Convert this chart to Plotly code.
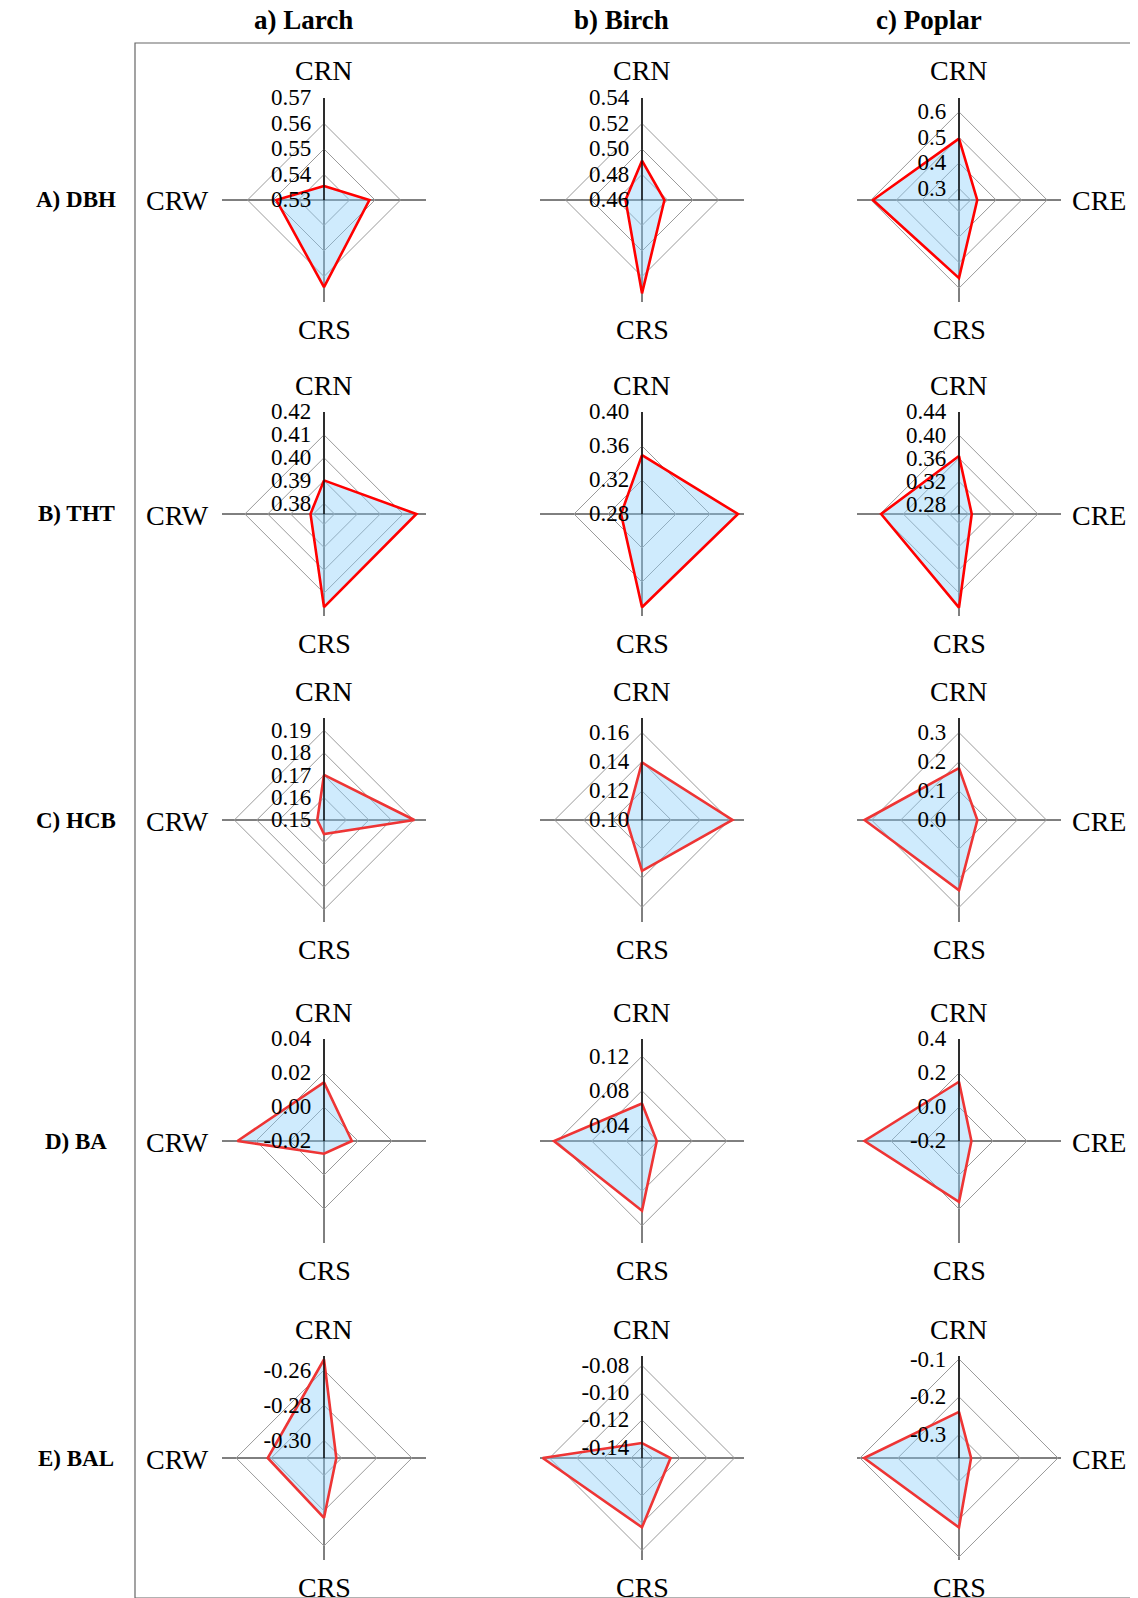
import plotly.graph_objects as go

# ---------------- data ----------------
categories = ["CRN", "CRE", "CRS", "CRW"]
species = ["a) Larch", "b) Birch", "c) Poplar"]
variables = ["A) DBH", "B) THT", "C) HCB", "D) BA", "E) BAL"]

# values in order CRN, CRE, CRS, CRW
dbh_larch = [0.5355, 0.5478, 0.5642, 0.5487]
dbh_birch = [0.4908, 0.4776, 0.5332, 0.4729]
dbh_poplar = [0.495, 0.326, 0.561, 0.592]

tht_larch = [0.3901, 0.4158, 0.4161, 0.3813]
tht_birch = [0.3493, 0.3929, 0.3897, 0.3046]
tht_poplar = [0.3641, 0.2858, 0.4255, 0.3983]

hcb_larch = [0.1701, 0.1903, 0.1563, 0.1530]
hcb_birch = [0.1395, 0.1621, 0.1349, 0.1106]
hcb_poplar = [0.178, 0.063, 0.241, 0.324]

ba_larch = [0.0145, -0.0036, -0.0125, 0.0309]
ba_birch = [0.0652, 0.0388, 0.1025, 0.1238]
ba_poplar = [0.1485, -0.127, 0.158, 0.356]

bal_larch = [-0.254, -0.303, -0.276, -0.278]
bal_birch = [-0.137, -0.127, -0.097, -0.075]
bal_poplar = [-0.240, -0.330, -0.178, -0.111]

# radial tick values / labels for each panel
ticks_dbh_larch = [0.53, 0.54, 0.55, 0.56, 0.57]
ticks_dbh_birch = [0.46, 0.48, 0.50, 0.52, 0.54]
ticks_dbh_poplar = [0.3, 0.4, 0.5, 0.6]
ticks_tht_larch = [0.38, 0.39, 0.40, 0.41, 0.42]
ticks_tht_birch = [0.28, 0.32, 0.36, 0.40]
ticks_tht_poplar = [0.28, 0.32, 0.36, 0.40, 0.44]
ticks_hcb_larch = [0.15, 0.16, 0.17, 0.18, 0.19]
ticks_hcb_birch = [0.10, 0.12, 0.14, 0.16]
ticks_hcb_poplar = [0.0, 0.1, 0.2, 0.3]
ticks_ba_larch = [-0.02, 0.00, 0.02, 0.04]
ticks_ba_birch = [0.04, 0.08, 0.12]
ticks_ba_poplar = [-0.2, 0.0, 0.2, 0.4]
ticks_bal_larch = [-0.30, -0.28, -0.26]
ticks_bal_birch = [-0.14, -0.12, -0.10, -0.08]
ticks_bal_poplar = [-0.3, -0.2, -0.1]

labels_dbh_larch = ["0.53", "0.54", "0.55", "0.56", "0.57"]
labels_dbh_birch = ["0.46", "0.48", "0.50", "0.52", "0.54"]
labels_dbh_poplar = ["0.3", "0.4", "0.5", "0.6"]
labels_tht_larch = ["0.38", "0.39", "0.40", "0.41", "0.42"]
labels_tht_birch = ["0.28", "0.32", "0.36", "0.40"]
labels_tht_poplar = ["0.28", "0.32", "0.36", "0.40", "0.44"]
labels_hcb_larch = ["0.15", "0.16", "0.17", "0.18", "0.19"]
labels_hcb_birch = ["0.10", "0.12", "0.14", "0.16"]
labels_hcb_poplar = ["0.0", "0.1", "0.2", "0.3"]
labels_ba_larch = ["-0.02", "0.00", "0.02", "0.04"]
labels_ba_birch = ["0.04", "0.08", "0.12"]
labels_ba_poplar = ["-0.2", "0.0", "0.2", "0.4"]
labels_bal_larch = ["-0.30", "-0.28", "-0.26"]
labels_bal_birch = ["-0.14", "-0.12", "-0.10", "-0.08"]
labels_bal_poplar = ["-0.3", "-0.2", "-0.1"]

# angular labels shown in each column (CRN, CRE, CRS, CRW)
angular_labels = [
    ["CRN", "", "CRS", "CRW"],
    ["CRN", "", "CRS", ""],
    ["CRN", "CRE", "CRS", ""],
]

# ---------------- axis settings ----------------
ranges = [
    [[0.53, 0.57], [0.46, 0.54], [0.2545, 0.6545]],
    [[0.3754, 0.42], [0.28, 0.40], [0.2638, 0.44]],
    [[0.15, 0.1955], [0.10, 0.170], [0.0, 0.35]],
    [[-0.02, 0.04], [0.0217, 0.140], [-0.2, 0.4]],
    [[-0.31, -0.252], [-0.148, -0.073], [-0.362, -0.092]],
]

panel_values = [
    [dbh_larch, dbh_birch, dbh_poplar],
    [tht_larch, tht_birch, tht_poplar],
    [hcb_larch, hcb_birch, hcb_poplar],
    [ba_larch, ba_birch, ba_poplar],
    [bal_larch, bal_birch, bal_poplar],
]
panel_ticks = [
    [ticks_dbh_larch, ticks_dbh_birch, ticks_dbh_poplar],
    [ticks_tht_larch, ticks_tht_birch, ticks_tht_poplar],
    [ticks_hcb_larch, ticks_hcb_birch, ticks_hcb_poplar],
    [ticks_ba_larch, ticks_ba_birch, ticks_ba_poplar],
    [ticks_bal_larch, ticks_bal_birch, ticks_bal_poplar],
]
panel_labels = [
    [labels_dbh_larch, labels_dbh_birch, labels_dbh_poplar],
    [labels_tht_larch, labels_tht_birch, labels_tht_poplar],
    [labels_hcb_larch, labels_hcb_birch, labels_hcb_poplar],
    [labels_ba_larch, labels_ba_birch, labels_ba_poplar],
    [labels_bal_larch, labels_bal_birch, labels_bal_poplar],
]

# page is 1138x1598; the html body has an 8px default margin,
# so the figure is made 8px smaller and page coords are shifted.
PAGE_W, PAGE_H = 1138, 1598
OFF = 8
W, H = PAGE_W - OFF, PAGE_H - OFF


def px(x):
    return (x - OFF) / W


def py(y):
    return 1 - (y - OFF) / H


col_cx = [324, 642, 959]
row_cy = [200, 514, 820, 1141, 1458]
R = 102
FONT = "Liberation Serif"
line_colors = ["#FF0000", "#FF0000", "#EE3535", "#EE3535", "#EE3535"]

fig = go.Figure()
layout_polars = {}
annotations = []
k = 0
for i in range(5):
    for j in range(3):
        k += 1
        name = "polar" if k == 1 else f"polar{k}"
        vals = panel_values[i][j]
        fig.add_trace(go.Scatterpolar(
            r=vals + vals[:1],
            theta=categories + categories[:1],
            mode="lines",
            fill="toself",
            fillcolor="rgba(135,206,250,0.40)",
            line=dict(color=line_colors[i], width=2.6),
            subplot=name,
            showlegend=False,
            hoverinfo="skip",
        ))
        cx, cy = col_cx[j], row_cy[i]
        layout_polars[name] = dict(
            domain=dict(x=[px(cx - R), px(cx + R)],
                        y=[py(cy + R), py(cy - R)]),
            gridshape="linear",
            bgcolor="rgba(0,0,0,0)",
            radialaxis=dict(
                range=ranges[i][j],
                angle=90,
                side="counterclockwise",
                tickmode="array",
                tickvals=panel_ticks[i][j],
                ticktext=panel_labels[i][j],
                showline=True,
                linecolor="black",
                linewidth=1.3,
                ticks="outside",
                ticklen=4,
                tickcolor="rgba(0,0,0,0)",
                gridcolor="#9a9a9a",
                gridwidth=1,
                tickfont=dict(family=FONT, size=23, color="black"),
                tickangle=90,
            ),
            angularaxis=dict(
                type="category",
                categoryarray=categories,
                rotation=90,
                direction="clockwise",
                showticklabels=False,
                showline=False,
                gridcolor="black",
                gridwidth=1.3,
                ticks="",
            ),
        )
        # angular category labels
        lab = angular_labels[j]
        afont = dict(family=FONT, size=28, color="black")
        pos = [
            (cx, cy - 129, "center", "middle"),
            (cx + 111, cy + 1, "left", "middle"),
            (cx, cy + 129, "center", "middle"),
            (cx - 113, cy + 1, "right", "middle"),
        ]
        for t, (ax_, ay_, xa, ya) in zip(lab, pos):
            if t:
                annotations.append(dict(
                    text=t, x=px(ax_), y=py(ay_), xref="paper", yref="paper",
                    showarrow=False, font=afont, xanchor=xa, yanchor=ya))

fig.update_layout(**layout_polars)

title_x = [303, 621, 929]
for j, s in enumerate(species):
    annotations.append(dict(
        text=f"<b>{s}</b>", x=px(title_x[j]), y=py(20),
        xref="paper", yref="paper", showarrow=False,
        font=dict(family=FONT, size=27, color="black"),
        xanchor="center", yanchor="middle"))
for i, v in enumerate(variables):
    annotations.append(dict(
        text=f"<b>{v}</b>", x=px(76), y=py(row_cy[i]),
        xref="paper", yref="paper", showarrow=False,
        font=dict(family=FONT, size=23, color="black"),
        xanchor="center", yanchor="middle"))

fig.update_layout(
    width=W, height=H,
    margin=dict(l=0, r=0, t=0, b=0),
    paper_bgcolor="white",
    plot_bgcolor="white",
    annotations=annotations,
    shapes=[dict(type="rect", xref="paper", yref="paper",
                 x0=px(135), x1=1.0, y0=0.0, y1=py(43),
                 line=dict(color="#666666", width=1.2))],
)

fig.write_html("out.html")
